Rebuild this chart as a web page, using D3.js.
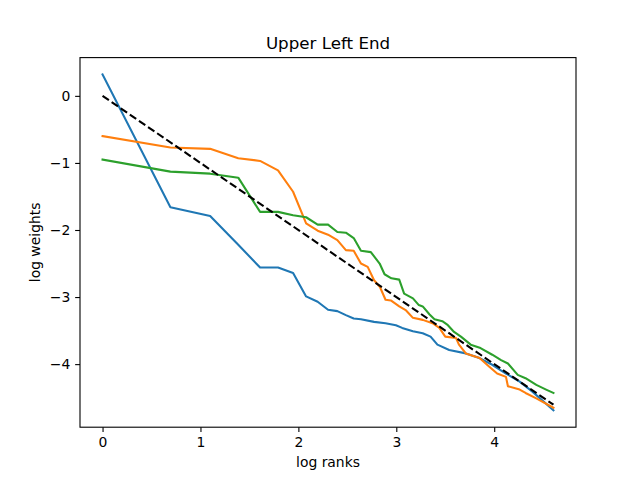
<!DOCTYPE html>
<html>
<head>
<meta charset="utf-8">
<script src="https://cdn.jsdelivr.net/npm/d3@7"></script>
<style>
  body { margin: 0; background: #fff; }
  text { font-family: "DejaVu Sans", sans-serif; fill: #000; }
</style>
</head>
<body>
<script>
// [log rank, log weight]
const blue = [
  [0, 0.32], [0.693, -1.66], [1.099, -1.79], [1.386, -2.22], [1.609, -2.56],
  [1.792, -2.56], [1.946, -2.64], [2.079, -2.99], [2.197, -3.07], [2.303, -3.19],
  [2.398, -3.21], [2.485, -3.27], [2.565, -3.32], [2.639, -3.33], [2.773, -3.37],
  [2.89, -3.39], [2.996, -3.42], [3.06, -3.46], [3.17, -3.51], [3.27, -3.54],
  [3.35, -3.59], [3.42, -3.71], [3.54, -3.79], [3.71, -3.84], [3.85, -3.91],
  [3.98, -4.01], [4.12, -4.14], [4.26, -4.26], [4.39, -4.41], [4.605, -4.69]
]
const orange = [
  [0, -0.6], [0.693, -0.77], [1.099, -0.79], [1.386, -0.93], [1.609, -0.97],
  [1.792, -1.11], [1.946, -1.43], [2.079, -1.9], [2.197, -2.01], [2.303, -2.07],
  [2.398, -2.15], [2.485, -2.3], [2.565, -2.31], [2.639, -2.5], [2.708, -2.55],
  [2.773, -2.75], [2.833, -2.85], [2.89, -3.04], [2.944, -3.05], [3.03, -3.14],
  [3.1, -3.2], [3.17, -3.31], [3.27, -3.34], [3.37, -3.39], [3.44, -3.46],
  [3.5, -3.59], [3.61, -3.61], [3.64, -3.71], [3.71, -3.84], [3.85, -3.91],
  [3.95, -4.04], [4.03, -4.14], [4.12, -4.19], [4.14, -4.33], [4.26, -4.38],
  [4.32, -4.43], [4.43, -4.51], [4.605, -4.65]
]
const green = [
  [0, -0.95], [0.693, -1.13], [1.099, -1.16], [1.386, -1.22], [1.609, -1.73],
  [1.792, -1.73], [1.946, -1.78], [2.079, -1.81], [2.197, -1.92], [2.303, -1.92],
  [2.398, -2.03], [2.485, -2.04], [2.565, -2.12], [2.639, -2.31], [2.74, -2.33],
  [2.83, -2.5], [2.88, -2.66], [2.95, -2.72], [3.03, -2.74], [3.08, -2.95],
  [3.17, -3.02], [3.23, -3.12], [3.27, -3.14], [3.34, -3.26], [3.39, -3.33],
  [3.47, -3.36], [3.52, -3.41], [3.59, -3.52], [3.66, -3.59], [3.76, -3.71],
  [3.86, -3.76], [3.98, -3.86], [4.07, -3.94], [4.14, -3.99], [4.24, -4.16],
  [4.32, -4.21], [4.43, -4.31], [4.53, -4.38], [4.605, -4.43]
]
// reference slope -1 line
const zipf = [[0, 0], [4.605, -4.605]]

const xTicks = [0, 1, 2, 3, 4]
const yTicks = [-4, -3, -2, -1, 0]

let w = 640
let h = 480
const mLeft = 80, mRight = 576, mTop = 57.6, mBottom = 427.2

const svg = d3.select("body").append("svg").attr("width", w).attr("height", h)

const all = blue.concat(orange, green, zipf)
const xExt = d3.extent(all, (d) => d[0])
const yExt = d3.extent(all, (d) => d[1])
const xPad = (xExt[1] - xExt[0]) * 0.05
const yPad = (yExt[1] - yExt[0]) * 0.05

const xScale = d3
  .scaleLinear()
  .domain([xExt[0] - xPad, xExt[1] + xPad])
  .range([mLeft, mRight])

const yScale = d3
  .scaleLinear()
  .domain([yExt[0] - yPad, yExt[1] + yPad])
  .range([mBottom, mTop])

const line = d3
  .line()
  .x((d) => xScale(d[0]))
  .y((d) => yScale(d[1]))

const series = [
  { data: blue, color: "#1f77b4" },
  { data: orange, color: "#ff7f0e" },
  { data: green, color: "#2ca02c" },
]

svg.append("defs").append("clipPath").attr("id", "clip")
  .append("rect").attr("x", mLeft).attr("y", mTop)
  .attr("width", mRight - mLeft).attr("height", mBottom - mTop)

const lines = svg.append("g").attr("clip-path", "url(#clip)")
series.forEach((s) => {
  lines.append("path")
    .attr("d", line(s.data))
    .attr("fill", "none")
    .attr("stroke", s.color)
    .attr("stroke-width", 2.08)
    .attr("stroke-linejoin", "round")
    .attr("stroke-linecap", "square")
})
lines.append("path")
  .attr("d", line(zipf))
  .attr("fill", "none")
  .attr("stroke", "#000")
  .attr("stroke-width", 2.08)
  .attr("stroke-dasharray", "7.7,3.33")

const fmt = (d) => (d < 0 ? "\u2212" + Math.abs(d) : "" + d)

const xAxis = svg.append("g")
  .attr("transform", `translate(0,${mBottom})`)
  .call(d3.axisBottom(xScale).tickValues(xTicks).tickFormat(fmt).tickSize(4.86).tickPadding(4.86))
const yAxis = svg.append("g")
  .attr("transform", `translate(${mLeft},0)`)
  .call(d3.axisLeft(yScale).tickValues(yTicks).tickFormat(fmt).tickSize(4.86).tickPadding(4.86))

;[xAxis, yAxis].forEach((a) => {
  a.select(".domain").remove()
  a.selectAll(".tick line").attr("stroke", "#000").attr("stroke-width", 1.1)
  a.selectAll(".tick text").attr("font-size", "13.9px").attr("font-family", "DejaVu Sans, sans-serif")
})

svg.append("rect")
  .attr("x", mLeft).attr("y", mTop)
  .attr("width", mRight - mLeft).attr("height", mBottom - mTop)
  .attr("fill", "none").attr("stroke", "#000").attr("stroke-width", 1.1)

svg.append("text")
  .attr("x", (mLeft + mRight) / 2).attr("y", mTop - 8.3)
  .attr("text-anchor", "middle").attr("font-size", "16.7px")
  .text("Upper Left End")

svg.append("text")
  .attr("x", (mLeft + mRight) / 2).attr("y", 467)
  .attr("text-anchor", "middle").attr("font-size", "13.9px")
  .text("log ranks")

svg.append("text")
  .attr("transform", `translate(40,${(mTop + mBottom) / 2}) rotate(-90)`)
  .attr("text-anchor", "middle").attr("font-size", "13.9px")
  .text("log weights")
</script>
</body>
</html>
